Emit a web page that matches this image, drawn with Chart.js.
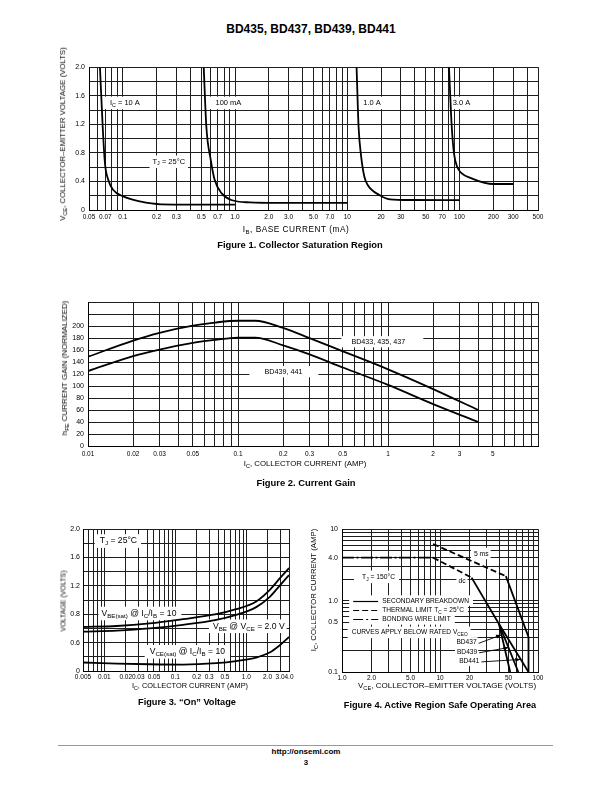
<!DOCTYPE html>
<html><head><meta charset="utf-8">
<script src="https://cdn.jsdelivr.net/npm/chart.js@4.4.1/dist/chart.umd.min.js"></script>
<style>
html,body{margin:0;padding:0;background:#fff;}
body{width:612px;height:792px;position:relative;overflow:hidden;font-family:"Liberation Sans",Arial,Helvetica,sans-serif;color:#000;}
.t{position:absolute;white-space:nowrap;transform:translate(-50%,-50%);line-height:1;}
.r{transform:translate(-50%,-50%) rotate(-90deg);}
.b{font-weight:bold;}
sub{font-size:0.72em;vertical-align:-0.28em;line-height:0;}
canvas{position:absolute;}
.rule{position:absolute;left:58px;top:745px;width:495px;height:0;border-top:1px solid #999;}
</style></head><body>
<div class="t b" style="left:311px;top:29px;font-size:12px">BD435, BD437, BD439, BD441</div>

<canvas id="c1"></canvas>
<div class="t r" style="left:63px;top:134px;font-size:7.8px">V<sub>CE</sub>, COLLECTOR–EMITTER VOLTAGE (VOLTS)</div>
<div class="t" style="left:296px;top:229px;font-size:8.3px;letter-spacing:0.5px">I<sub>B</sub>, BASE CURRENT (mA)</div>
<div class="t b" style="left:300px;top:245px;font-size:9.4px">Figure 1. Collector Saturation Region</div>

<canvas id="c2"></canvas>
<div class="t r" style="left:65px;top:368px;font-size:8px">h<sub>FE</sub> CURRENT GAIN (NORMALIZED)</div>
<div class="t" style="left:305px;top:464px;font-size:7.8px">I<sub>C</sub>, COLLECTOR CURRENT (AMP)</div>
<div class="t b" style="left:306px;top:483px;font-size:9.4px">Figure 2. Current Gain</div>

<canvas id="c3"></canvas>
<div class="t r" style="left:63px;top:601px;font-size:7px">VOLTAGE (VOLTS)</div>
<div class="t" style="left:190px;top:686px;font-size:7.4px">I<sub>C</sub>, COLLECTOR CURRENT (AMP)</div>
<div class="t b" style="left:187px;top:703px;font-size:9.2px">Figure 3. “On” Voltage</div>

<canvas id="c4"></canvas>
<div class="t r" style="left:314px;top:590px;font-size:7.8px">I<sub>C</sub>, COLLECTOR CURRENT (AMP)</div>
<div class="t" style="left:447px;top:686px;font-size:8px">V<sub>CE</sub>, COLLECTOR–EMITTER VOLTAGE (VOLTS)</div>
<div class="t b" style="left:440px;top:706px;font-size:9.2px">Figure 4. Active Region Safe Operating Area</div>

<div class="rule"></div>
<div class="t b" style="left:306px;top:752px;font-size:8px">http://onsemi.com</div>
<div class="t b" style="left:306px;top:763px;font-size:8px">3</div>

<script>
// ================= DATA =================
// Figure 1 – Collector Saturation Region (IB in mA, VCE in volts)
const fig1_10A_ib    = [0.0626, 0.0662, 0.0694, 0.0743, 0.0823, 0.101, 0.142, 0.22, 1.0];
const fig1_10A_vce   = [2.0, 1.17, 0.65, 0.42, 0.28, 0.19, 0.12, 0.08, 0.075];
const fig1_100mA_ib  = [0.526, 0.555, 0.608, 0.659, 0.761, 0.924, 1.35, 2.49, 10];
const fig1_100mA_vce = [2.0, 1.17, 0.70, 0.42, 0.233, 0.14, 0.107, 0.10, 0.10];
const fig1_1A_ib     = [12.1, 12.6, 13.3, 14.2, 15.2, 19.3, 24.0, 37.7, 100];
const fig1_1A_vce    = [2.0, 1.17, 0.745, 0.466, 0.35, 0.21, 0.15, 0.14, 0.137];
const fig1_3A_ib     = [80.5, 85.2, 89.3, 95.2, 104.7, 128, 167, 202, 300];
const fig1_3A_vce    = [2.0, 1.17, 0.79, 0.605, 0.513, 0.443, 0.38, 0.364, 0.364];
const fig1_xLabelVals = [0.05, 0.07, 0.1, 0.2, 0.3, 0.5, 0.7, 1, 2, 3, 5, 7, 10, 20, 30, 50, 70, 100, 200, 300, 500];
const fig1_xLabels    = ['0.05','0.07','0.1','0.2','0.3','0.5','0.7','1.0','2.0','3.0','5.0','7.0','10','20','30','50','70','100','200','300','500'];
const fig1_yGrid      = [0, 0.2, 0.4, 0.6, 0.8, 1.0, 1.2, 1.4, 1.6, 1.8, 2.0];
const fig1_yLabelVals = [0, 0.4, 0.8, 1.2, 1.6, 2.0];
const fig1_yLabels    = ['0','0.4','0.8','1.2','1.6','2.0'];

// Figure 2 – Current Gain
const fig2_ic         = [0.01, 0.02, 0.03, 0.05, 0.07, 0.1, 0.13, 0.2, 0.3, 0.5, 1, 2, 4];
const fig2_hfe_433    = [149, 176, 189, 201, 206, 209, 209, 197, 180, 158, 128, 95, 60];
const fig2_hfe_439    = [125, 150, 161, 172, 177, 181, 181, 168, 153, 131, 102, 70, 40];
const fig2_xLabelVals = [0.01, 0.02, 0.03, 0.05, 0.1, 0.2, 0.3, 0.5, 1, 2, 3, 5];
const fig2_xLabels    = ['0.01','0.02','0.03','0.05','0.1','0.2','0.3','0.5','1','2','3','5'];
const fig2_yGrid      = [0, 20, 40, 60, 80, 100, 120, 140, 160, 180, 200, 220, 240];
const fig2_yLabelVals = [0, 20, 40, 60, 80, 100, 120, 140, 160, 180, 200];
const fig2_yLabels    = ['0','20','40','60','80','100','120','140','160','180','200'];

// Figure 3 – "On" Voltage
const fig3_ic         = [0.005, 0.015, 0.0435, 0.128, 0.378, 0.72, 1.38, 2.13, 2.94, 4.0];
const fig3_vbeSat     = [0.62, 0.634, 0.67, 0.73, 0.80, 0.87, 0.98, 1.14, 1.30, 1.45];
const fig3_vbe        = [0.555, 0.57, 0.60, 0.65, 0.72, 0.79, 0.90, 1.04, 1.20, 1.35];
const fig3_vceSat     = [0.12, 0.105, 0.095, 0.09, 0.11, 0.14, 0.19, 0.26, 0.36, 0.48];
const fig3_xLabelVals = [0.005, 0.01, 0.02, 0.03, 0.05, 0.1, 0.2, 0.3, 0.5, 1, 2, 3, 4];
const fig3_xLabels    = ['0.005','0.01','0.02','0.03','0.05','0.1','0.2','0.3','0.5','1.0','2.0','3.0','4.0'];
const fig3_yGrid      = [0, 0.2, 0.4, 0.6, 0.8, 1.0, 1.2, 1.4, 1.6, 1.8, 2.0];
const fig3_yLabelVals = [0, 0.4, 0.8, 1.2, 1.6, 2.0];
const fig3_yLabels    = ['0','0.6','0.8','1.2','1.6','2.0'];

// Figure 4 – Active Region Safe Operating Area
const fig4_bond_vce      = [1.0, 8.5];
const fig4_bond_ic       = [4.0, 4.0];
const fig4_dcTherm_vce   = [8.5, 21];
const fig4_dcTherm_ic    = [4.0, 2.1];
const fig4_dcSec_vce     = [21, 40];
const fig4_dcSec_ic      = [2.1, 0.47];
const fig4_bd437_vce     = [40, 52];
const fig4_bd437_ic      = [0.47, 0.1];
const fig4_bd439_vce     = [40, 63];
const fig4_bd439_ic      = [0.47, 0.1];
const fig4_bd441_vce     = [40, 80];
const fig4_bd441_ic      = [0.47, 0.1];
const fig4_5msTherm_vce  = [8.5, 47];
const fig4_5msTherm_ic   = [6.2, 2.2];
const fig4_5msSec_vce    = [47, 80, 80];
const fig4_5msSec_ic     = [2.2, 0.31, 0.1];
const fig4_xLabelVals = [1, 2, 5, 10, 20, 50, 100];
const fig4_xLabels    = ['1.0','2.0','5.0','10','20','50','100'];
const fig4_yLabelVals = [0.1, 0.5, 1, 4, 10];
const fig4_yLabels    = ['0.1','0.5','1.0','4.0','10'];

// ================= HELPERS =================
const FONT = '"Liberation Sans", Arial, Helvetica, sans-serif';
Chart.defaults.font.family = FONT;
Chart.defaults.color = '#000';

function logGrid(min, max) {
  const out = [];
  for (let e = Math.floor(Math.log10(min)); e <= Math.ceil(Math.log10(max)); e++) {
    for (let m = 1; m <= 9; m++) {
      const v = +(m * Math.pow(10, e)).toPrecision(6);
      if (v >= min * 0.9999 && v <= max * 1.0001) out.push(v);
    }
  }
  return out;
}
function pts(xs, ys) { return xs.map((x, i) => ({ x: x, y: ys[i] })); }
function findLabel(vals, texts, v) {
  for (let i = 0; i < vals.length; i++) {
    if (Math.abs(vals[i] - v) <= Math.abs(vals[i]) * 1e-6 + 1e-9) return texts[i];
  }
  return '';
}
function line(xs, ys, opt) {
  return Object.assign({
    data: pts(xs, ys), showLine: true, borderColor: '#000', borderWidth: 1.8,
    pointRadius: 0, pointHoverRadius: 0, fill: false, tension: 0
  }, opt || {});
}
const curve = { tension: 0.4, cubicInterpolationMode: 'monotone' };

function measureRich(ctx, parts, size) {
  let w = 0;
  const segs = parts.map(p => {
    const sub = p[1] === 'sub';
    const fs = sub ? size * 0.72 : size;
    ctx.font = fs + 'px ' + FONT;
    const sw = ctx.measureText(p[0]).width;
    const s = { t: p[0], fs: fs, dy: sub ? size * 0.3 : 0, w: sw, x: w };
    w += sw;
    return s;
  });
  return { segs, w };
}
function drawRich(ctx, n, px, py) {
  const size = n.size || 7, sx = n.sx || 1;
  const m = measureRich(ctx, n.parts, size);
  const w = m.w * sx;
  if (n.bg !== false) {
    const pv = n.pv == null ? 2.5 : n.pv;
    ctx.fillStyle = '#fff';
    ctx.fillRect(px - (n.pl || 3), py - size / 2 - pv, w + (n.pl || 3) + (n.pr || 3), size + 2 * pv);
  }
  ctx.save();
  ctx.translate(px, py);
  ctx.scale(sx, 1);
  ctx.fillStyle = '#000';
  ctx.textBaseline = 'middle';
  ctx.textAlign = 'left';
  m.segs.forEach(s => { ctx.font = s.fs + 'px ' + FONT; ctx.fillText(s.t, s.x, s.dy); });
  ctx.restore();
  return w;
}
function notesPlugin(items) {
  return {
    id: 'notes',
    beforeDatasetsDraw(chart) {
      const ctx = chart.ctx, xs = chart.scales.x, ys = chart.scales.y;
      ctx.save();
      items.forEach(n => {
        let px = xs.getPixelForValue(n.x), py = ys.getPixelForValue(n.y);
        if (n.legend) {
          const len = n.legend.len, gap = n.legend.gap;
          const m = measureRich(ctx, n.parts, n.size);
          ctx.fillStyle = '#fff';
          ctx.fillRect(px - 4, py - n.size / 2 - 1.5, len + gap + m.w * (n.sx || 1) + 8, n.size + 3);
          ctx.strokeStyle = '#000'; ctx.lineWidth = 1.2;
          ctx.setLineDash(n.legend.dash);
          ctx.beginPath(); ctx.moveTo(px, Math.round(py) + 0.5); ctx.lineTo(px + len, Math.round(py) + 0.5); ctx.stroke();
          ctx.setLineDash([]);
          drawRich(ctx, Object.assign({}, n, { bg: false }), px + len + gap, py);
          return;
        }
        const w = drawRich(ctx, n, px, py);
        if (n.arrowTo) {
          const x0 = px + w + 2, y0 = py + 1;
          const x1 = xs.getPixelForValue(n.arrowTo.x), y1 = ys.getPixelForValue(n.arrowTo.y);
          ctx.strokeStyle = '#000'; ctx.lineWidth = 0.9;
          ctx.beginPath(); ctx.moveTo(x0, y0); ctx.lineTo(x1, y1); ctx.stroke();
          const a = Math.atan2(y1 - y0, x1 - x0), L = 5, W = 2;
          ctx.fillStyle = '#000';
          ctx.beginPath();
          ctx.moveTo(x1, y1);
          ctx.lineTo(x1 - L * Math.cos(a) + W * Math.sin(a), y1 - L * Math.sin(a) - W * Math.cos(a));
          ctx.lineTo(x1 - L * Math.cos(a) - W * Math.sin(a), y1 - L * Math.sin(a) + W * Math.cos(a));
          ctx.closePath(); ctx.fill();
        }
      });
      ctx.restore();
    }
  };
}
function axis(a, isX, L, B) {
  return {
    type: a.type, min: a.min, max: a.max, position: isX ? 'bottom' : 'left',
    afterBuildTicks: s => { s.ticks = a.grid.map(v => ({ value: v })); },
    afterFit: s => { if (isX) s.height = B; else s.width = L; },
    ticks: {
      autoSkip: false, maxRotation: 0, minRotation: 0, padding: a.pad, color: '#000',
      font: { family: FONT, size: a.fs },
      callback: v => findLabel(a.lv, a.lt, v)
    },
    grid: { color: '#1e1e1e', lineWidth: 1, drawTicks: false },
    border: { display: true, color: '#000', width: 1 }
  };
}
function makeChart(id, plot, xa, ya, datasets, notes) {
  const L = 34, T = 8, R = 16, B = 16;
  const cv = document.getElementById(id);
  cv.width = plot.r - plot.l + L + R;
  cv.height = plot.b - plot.t + T + B;
  cv.style.left = (plot.l - L) + 'px';
  cv.style.top = (plot.t - T) + 'px';
  return new Chart(cv, {
    type: 'scatter',
    data: { datasets },
    options: {
      responsive: false, animation: false, devicePixelRatio: 1,
      layout: { padding: { left: 0, top: T, right: R, bottom: 0 } },
      plugins: { legend: { display: false }, tooltip: { enabled: false } },
      scales: { x: axis(xa, true, L, B), y: axis(ya, false, L, B) }
    },
    plugins: [notesPlugin(notes)]
  });
}

// ================= FIGURE 1 =================
makeChart('c1', { l: 89, t: 67, r: 538, b: 210 },
  { type: 'logarithmic', min: 0.05, max: 500, grid: logGrid(0.05, 500), lv: fig1_xLabelVals, lt: fig1_xLabels, fs: 6.5, pad: 3 },
  { type: 'linear', min: 0, max: 2, grid: fig1_yGrid, lv: fig1_yLabelVals, lt: fig1_yLabels, fs: 7, pad: 4 },
  [
    line(fig1_10A_ib, fig1_10A_vce, curve),
    line(fig1_100mA_ib, fig1_100mA_vce, curve),
    line(fig1_1A_ib, fig1_1A_vce, curve),
    line(fig1_3A_ib, fig1_3A_vce, curve)
  ],
  [
    { x: 0.0768, y: 1.5, parts: [['I', ''], ['C', 'sub'], [' = 10 A', '']], size: 7.5, pl: 7, pr: 8, pv: 2.5 },
    { x: 0.67, y: 1.5, parts: [['100 mA', '']], size: 7.5, pl: 7, pr: 12, pv: 2.5 },
    { x: 13.9, y: 1.5, parts: [['1.0 A', '']], size: 7.5, pl: 4, pr: 12, pv: 2.5 },
    { x: 86.8, y: 1.5, parts: [['3.0 A', '']], size: 7.5, pl: 3, pr: 6, pv: 2.5 },
    { x: 0.184, y: 0.676, parts: [['T', ''], ['J', 'sub'], [' = 25°C', '']], size: 7.5, pl: 3, pr: 3, pv: 2.5 }
  ]
);

// ================= FIGURE 2 =================
makeChart('c2', { l: 88, t: 302, r: 538, b: 446 },
  { type: 'logarithmic', min: 0.01, max: 10, grid: logGrid(0.01, 10), lv: fig2_xLabelVals, lt: fig2_xLabels, fs: 6.5, pad: 4 },
  { type: 'linear', min: 0, max: 240, grid: fig2_yGrid, lv: fig2_yLabelVals, lt: fig2_yLabels, fs: 7, pad: 4 },
  [
    line(fig2_ic, fig2_hfe_433, curve),
    line(fig2_ic, fig2_hfe_439, curve)
  ],
  [
    { x: 0.57, y: 174, parts: [['BD433, 435, 437', '']], size: 7.2, pl: 10, pr: 18, pv: 2 },
    { x: 0.15, y: 124, parts: [['BD439, 441', '']], size: 7.2, pl: 15, pr: 16, pv: 2 }
  ]
);

// ================= FIGURE 3 =================
makeChart('c3', { l: 83, t: 529, r: 289, b: 671 },
  { type: 'logarithmic', min: 0.005, max: 4, grid: logGrid(0.005, 4), lv: fig3_xLabelVals, lt: fig3_xLabels, fs: 6.5, pad: 2 },
  { type: 'linear', min: 0, max: 2, grid: fig3_yGrid, lv: fig3_yLabelVals, lt: fig3_yLabels, fs: 7, pad: 3 },
  [
    line(fig3_ic, fig3_vbeSat, curve),
    line(fig3_ic, fig3_vbe, curve),
    line(fig3_ic, fig3_vceSat, curve)
  ],
  [
    { x: 0.0086, y: 1.83, parts: [['T', ''], ['J', 'sub'], [' = 25°C', '']], size: 8.6, pl: 5, pr: 4, pv: 2.5 },
    { x: 0.0091, y: 0.81, parts: [['V', ''], ['BE(sat)', 'sub'], [' @ I', ''], ['C', 'sub'], ['/I', ''], ['B', 'sub'], [' = 10', '']], size: 8.6, pl: 3, pr: 5, pv: 2.5 },
    { x: 0.339, y: 0.63, parts: [['V', ''], ['BE', 'sub'], [' @ V', ''], ['CE', 'sub'], [' = 2.0 V', '']], size: 8.6, pl: 4, pr: 2, pv: 2.5 },
    { x: 0.0435, y: 0.27, parts: [['V', ''], ['CE(sat)', 'sub'], [' @ I', ''], ['C', 'sub'], ['/I', ''], ['B', 'sub'], [' = 10', '']], size: 8.6, pl: 5, pr: 5, pv: 2.5 }
  ]
);

// ================= FIGURE 4 =================
const dashThermal = [6, 3];
const dashBond = [12, 2.5, 2, 2.5];
makeChart('c4', { l: 342, t: 529, r: 538, b: 672 },
  { type: 'logarithmic', min: 1, max: 100, grid: logGrid(1, 100), lv: fig4_xLabelVals, lt: fig4_xLabels, fs: 6.5, pad: 2 },
  { type: 'logarithmic', min: 0.1, max: 10, grid: logGrid(0.1, 10), lv: fig4_yLabelVals, lt: fig4_yLabels, fs: 7, pad: 4 },
  [
    line(fig4_bond_vce, fig4_bond_ic, { borderDash: dashBond }),
    line(fig4_dcTherm_vce, fig4_dcTherm_ic, { borderDash: dashThermal }),
    line(fig4_dcSec_vce, fig4_dcSec_ic),
    line(fig4_bd437_vce, fig4_bd437_ic),
    line(fig4_bd439_vce, fig4_bd439_ic),
    line(fig4_bd441_vce, fig4_bd441_ic),
    line(fig4_5msTherm_vce, fig4_5msTherm_ic, { borderDash: dashThermal }),
    line(fig4_5msSec_vce, fig4_5msSec_ic)
  ],
  [
    { x: 22.2, y: 4.57, parts: [['5 ms', '']], size: 7.5, sx: 0.9, pl: 3, pr: 2, pv: 2 },
    { x: 15.4, y: 1.89, parts: [['dc', '']], size: 7.5, sx: 0.9, pl: 2, pr: 2, pv: 2 },
    { x: 1.6, y: 2.15, parts: [['T', ''], ['J', 'sub'], [' = 150°C', '']], size: 7.5, sx: 0.9, pl: 8, pr: 4, pv: 2.5 },
    { x: 1.3, y: 1.0, parts: [['SECONDARY BREAKDOWN', '']], size: 7.5, sx: 0.88, legend: { len: 25, gap: 4, dash: [] } },
    { x: 1.3, y: 0.736, parts: [['THERMAL LIMIT T', ''], ['C', 'sub'], [' = 25°C', '']], size: 7.5, sx: 0.88, legend: { len: 25, gap: 4, dash: [6, 3] } },
    { x: 1.3, y: 0.546, parts: [['BONDING WIRE LIMIT', '']], size: 7.5, sx: 0.88, legend: { len: 25, gap: 4, dash: [10, 3, 2, 3] } },
    { x: 1.255, y: 0.359, parts: [['CURVES APPLY BELOW RATED V', ''], ['CEO', 'sub']], size: 7.5, sx: 0.88, pl: 4, pr: 3, pv: 2 },
    { x: 14.7, y: 0.26, parts: [['BD437', '']], size: 7.5, sx: 0.88, pl: 2, pr: 1, pv: 1.5, arrowTo: { x: 42, y: 0.33 } },
    { x: 14.9, y: 0.192, parts: [['BD439', '']], size: 7.5, sx: 0.88, pl: 2, pr: 1, pv: 1.5, arrowTo: { x: 50, y: 0.22 } },
    { x: 15.7, y: 0.143, parts: [['BD441', '']], size: 7.5, sx: 0.88, pl: 2, pr: 1, pv: 1.5, arrowTo: { x: 66, y: 0.15 } }
  ]
);
</script>
</body></html>
